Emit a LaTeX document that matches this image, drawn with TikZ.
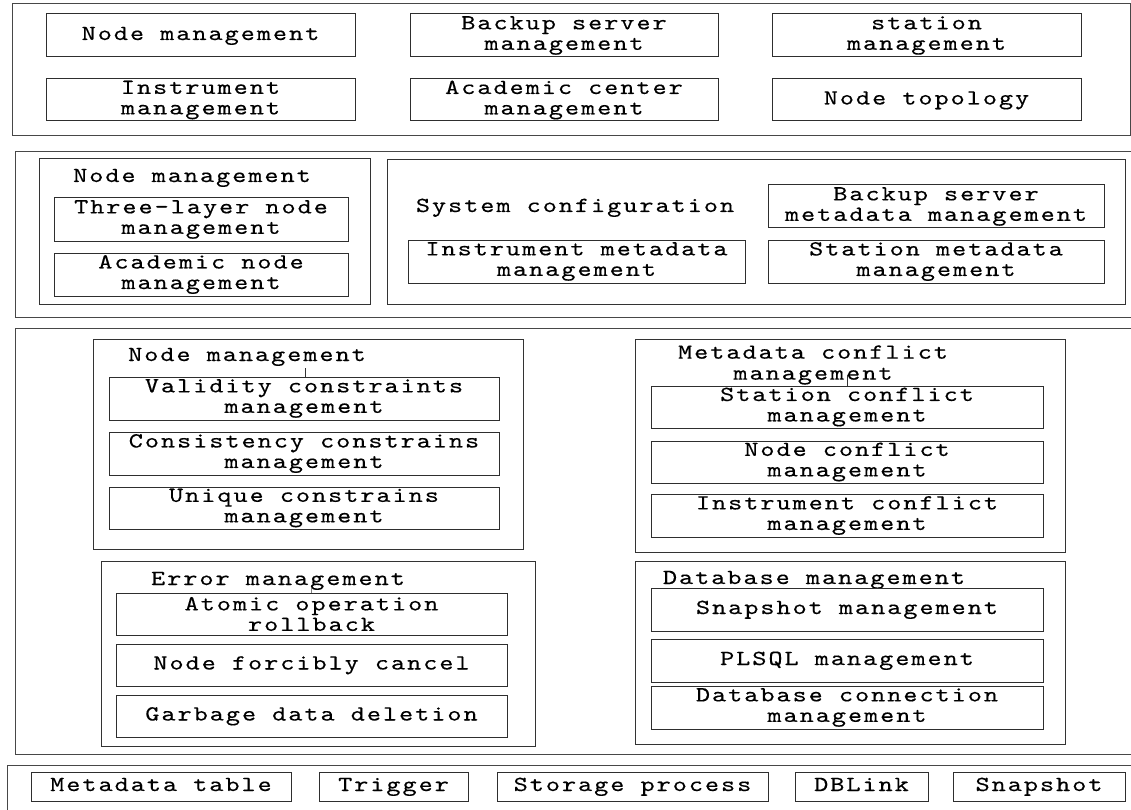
\documentclass[tikz,border=0pt]{standalone}
\usepackage{fontspec}
\newfontfamily\diagfont[LetterSpace=9.3,FakeStretch=1.25,FakeBold=0.35]{lmmono10-regular.otf}
\tikzset{
  layer/.style={draw=black!72, line width=1pt},
  grp/.style={draw=black!80, line width=1pt},
  cell/.style={draw=black!82, line width=1pt, inner sep=0pt, align=center,
    font=\diagfont\fontsize{21.5}{20.5}\selectfont},
  one/.style={text height=13.5pt, text depth=4.5pt},
  lbl/.style={inner sep=0pt, align=center, font=\diagfont\fontsize{21.5}{21}\selectfont},
  tick/.style={draw=black!80, line width=0.8pt}
}
% box: name, left, top, right, bottom, text, extra options   (pixel units, y downwards)
\newcommand\bx[7][]{%
  \node[cell, #1, minimum width={(#5-#3)*1pt}, minimum height={(#6-#4)*1pt}]
    (#2) at ({(#3+#5)/2},{(#4+#6)/2}) {#7};}
\begin{document}
\begin{tikzpicture}[x=1pt,y=-1pt]
\useasboundingbox (0,0) rectangle (1131,810);
\clip (0,0) rectangle (1131,810);

% ---------- application layer ----------
\draw[layer] (12,4) rectangle (1130,136);
\bx[one]{appNode}{46}{14}{355}{57}{Node management}
\bx{appBackup}{410}{14}{718}{57}{Backup server\\management}
\bx{appStation}{772}{14}{1081}{57}{station\\management}
\bx{appInstr}{46}{79}{355}{121}{Instrument\\management}
\bx{appAcad}{410}{79}{718}{121}{Academic center\\management}
\bx[one]{appTopo}{772}{79}{1081}{121}{Node topology}

% ---------- configuration layer ----------
\draw[layer] (15,152) rectangle (1145,317);
\draw[grp] (39,159) rectangle (370,304);
\node[lbl, anchor=base] (cfgNodeLbl) at (192,182) {Node management};
\bx{cfgThree}{54}{198}{348}{241}{Three-layer node\\management}
\bx{cfgAcad}{54}{253}{348}{296}{Academic node\\management}
\draw[grp] (387,160) rectangle (1125,304);
\node[lbl, anchor=base] (sysLbl) at (575,212) {System configuration};
\bx{cfgBackup}{768}{185}{1104}{228}{Backup server\\metadata management}
\bx{cfgInstr}{408}{240}{745}{283}{Instrument metadata\\management}
\bx{cfgStation}{768}{240}{1104}{283}{Station metadata\\management}

% ---------- management layer ----------
\draw[layer] (15,328) rectangle (1145,754);

\draw[grp] (93,339) rectangle (523,549);
\node[lbl, anchor=base] (conLbl) at (247,361) {Node management};
\bx{valid}{109}{377}{499}{420}{Validity constraints\\management}
\bx{consist}{109}{432}{499}{475}{Consistency constrains\\management}
\bx{unique}{109}{487}{499}{529}{Unique constrains\\management}
\coordinate (t1) at (305,368);
\draw[tick] (t1) -- (t1 |- valid.north);

\draw[grp] (635,339) rectangle (1065,552);
\node[lbl] (mcLbl) at (813,365) {Metadata conflict\\management};
\bx{stConf}{651}{386}{1043}{428}{Station conflict\\management}
\bx{ndConf}{651}{441}{1043}{483}{Node conflict\\management}
\bx{inConf}{651}{494}{1043}{537}{Instrument conflict\\management}
\coordinate (t2) at (847,375);
\draw[tick] (t2) -- (t2 |- stConf.north);

\draw[grp] (101,561) rectangle (535,746);
\node[lbl, anchor=base] (errLbl) at (278,585) {Error management};
\bx{atomic}{116}{593}{507}{635}{Atomic operation\\rollback}
\bx[one]{forcib}{116}{644}{507}{686}{Node forcibly cancel}
\bx[one]{garbage}{116}{695}{507}{737}{Garbage data deletion}
\coordinate (t3) at (311,588);
\draw[tick, draw=black!50, line width=0.6pt] (t3) -- (t3 |- atomic.north);

\draw[grp] (635,561) rectangle (1065,744);
\node[lbl, anchor=base] (dbLbl) at (814,584) {Database management};
\bx[one]{snapM}{651}{588}{1043}{631}{Snapshot management}
\bx[one]{plsql}{651}{639}{1043}{682}{PLSQL management}
\bx{dbconn}{651}{686}{1043}{729}{Database connection\\management}

% ---------- database layer ----------
\draw[layer] (7,765) rectangle (1145,830);
\bx[one]{metaTab}{31}{772}{291}{801}{Metadata table}
\bx[one]{trigger}{319}{772}{468}{801}{Trigger}
\bx[one]{storage}{497}{772}{768}{801}{Storage process}
\bx[one]{dblink}{795}{772}{928}{801}{DBLink}
\bx[one]{snap}{953}{772}{1125}{801}{Snapshot}
\end{tikzpicture}
\end{document}
